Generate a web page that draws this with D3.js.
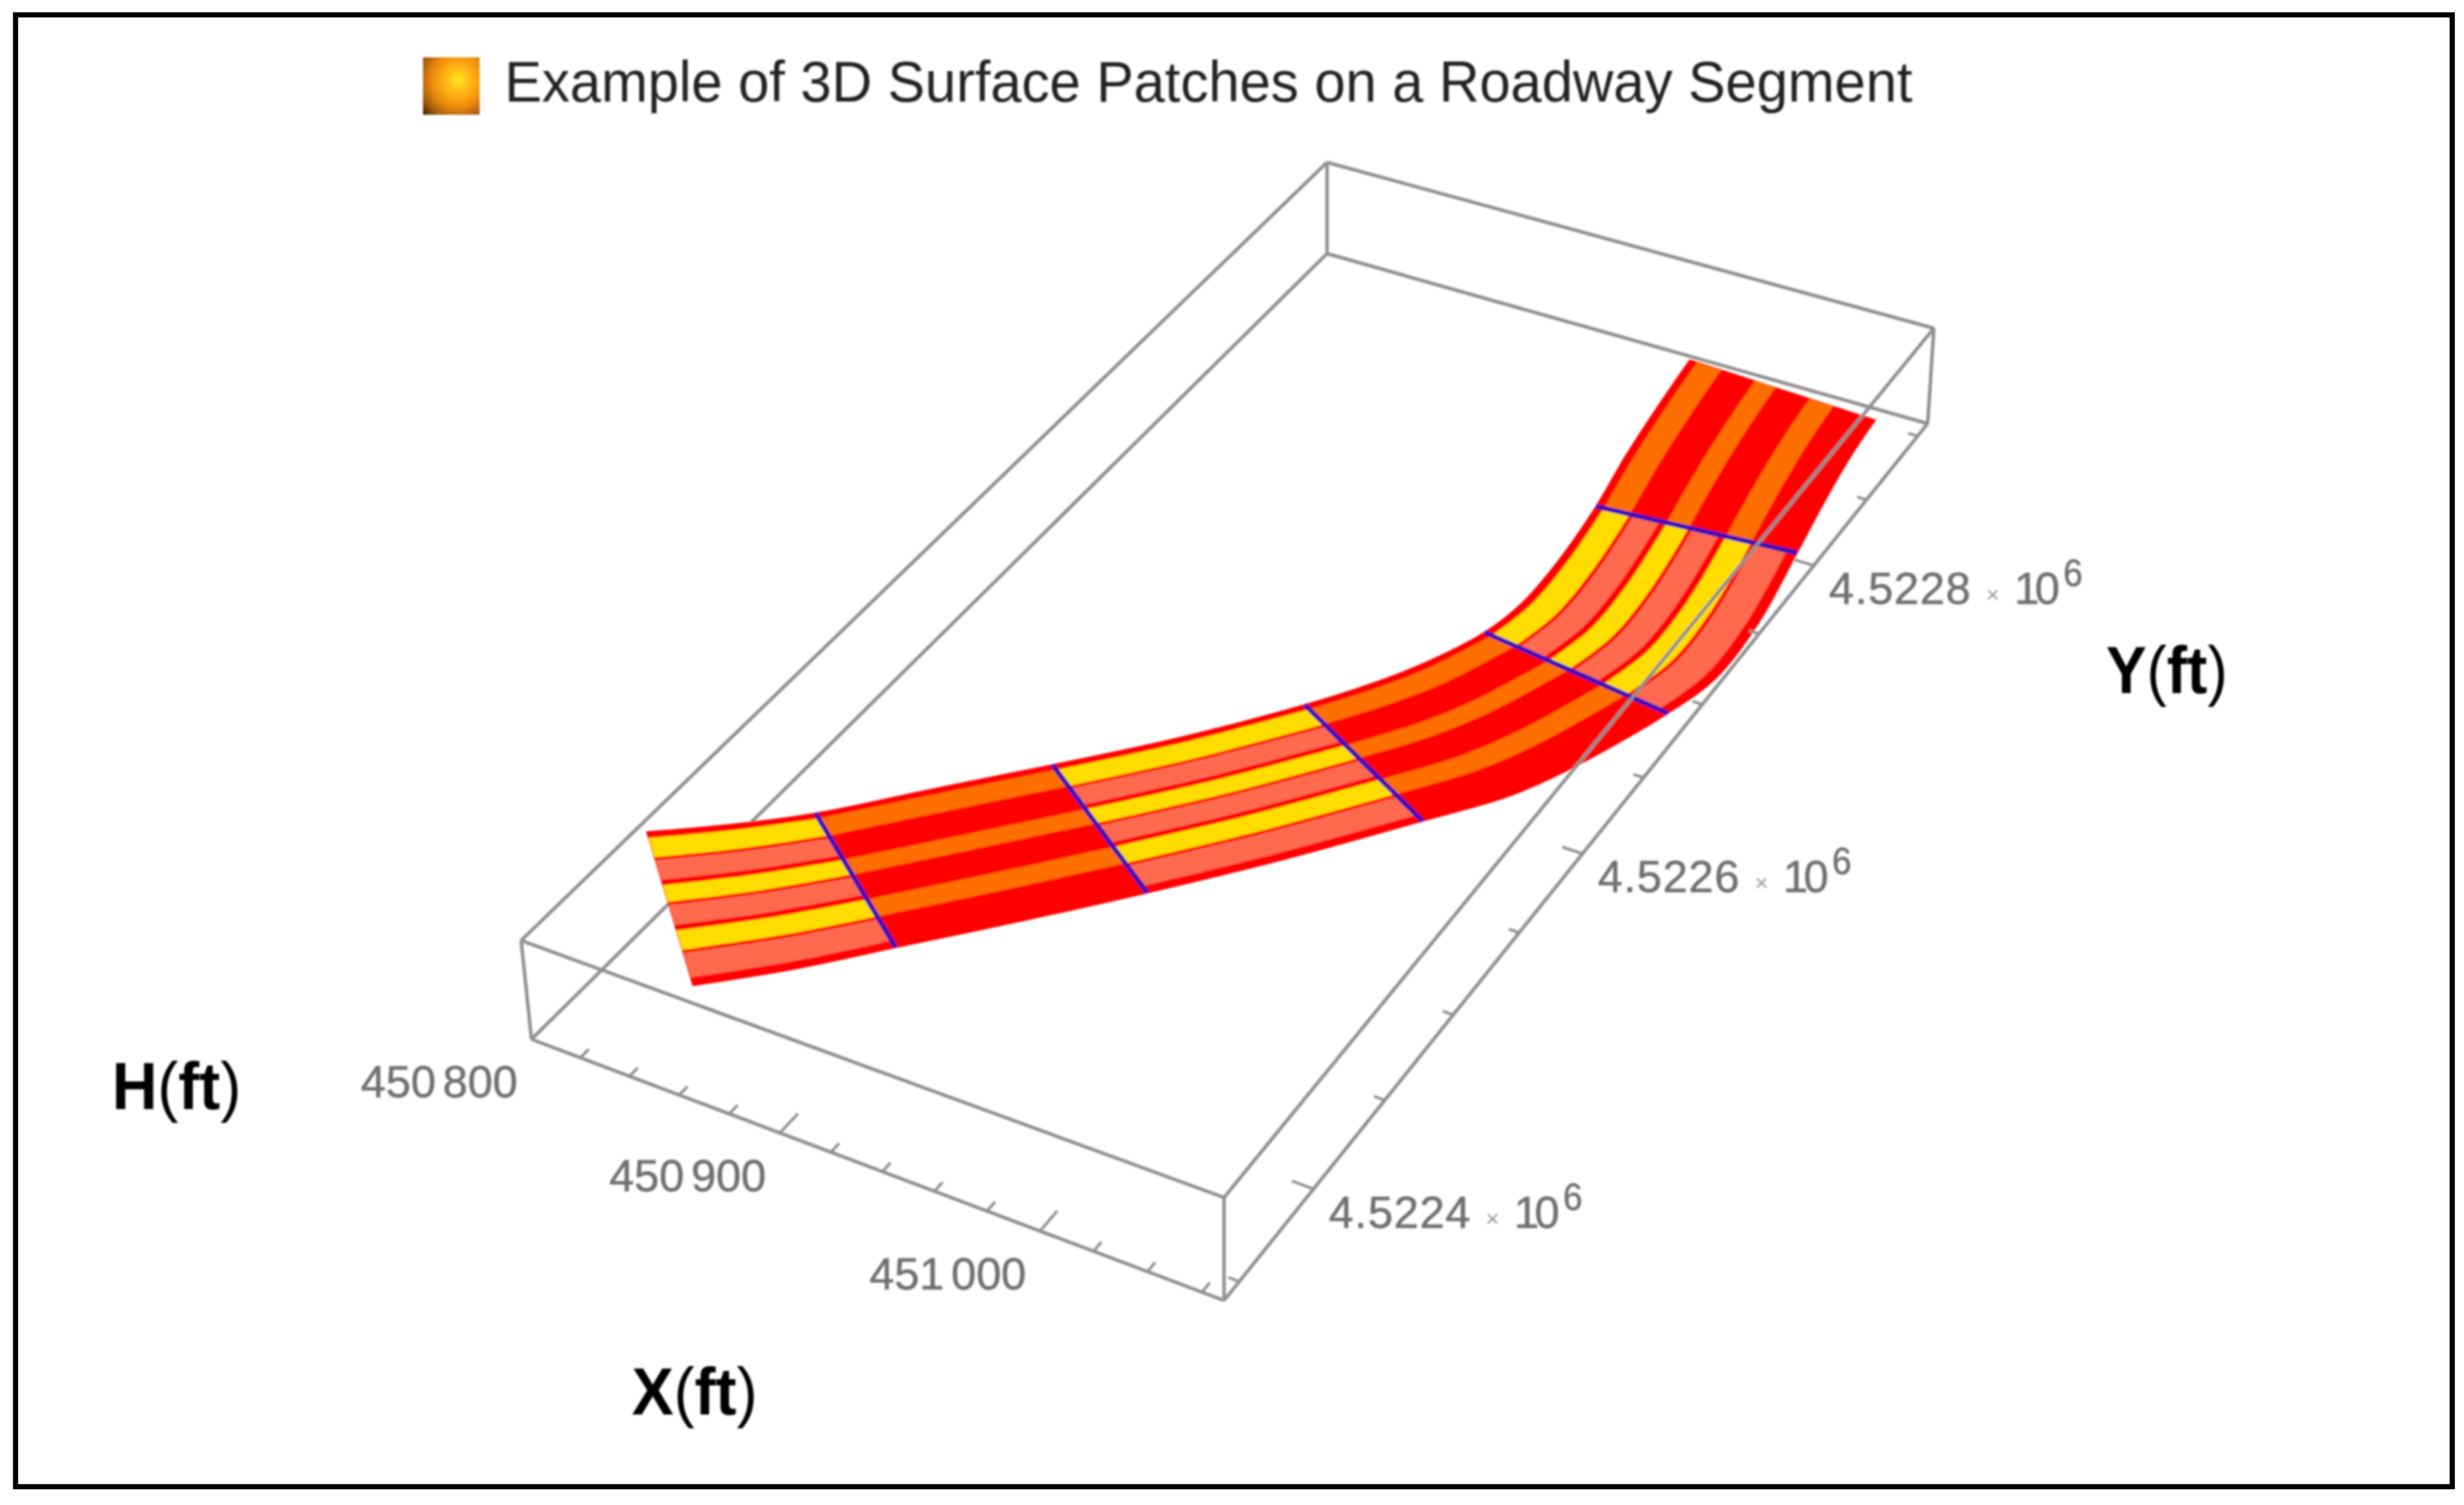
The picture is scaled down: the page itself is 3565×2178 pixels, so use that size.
<!DOCTYPE html><html><head><meta charset="utf-8"><style>html,body{margin:0;background:#fff}svg{display:block}</style></head><body><script src="https://d3js.org/d3.v7.min.js"></script><script>
// ---- data (feet) ----
const xDomain=[450800,451068], yDomain=[4522340,4522910], hDomain=[0,100];
const xMajorTicks=[450800,450900,451000];
const yMajorTicks=[4522400,4522600,4522800];
const xTickValues=d3.range(450800,451068,20);
const yTickValues=d3.range(4522350,4522910,50);
const roadLeftX=[450799.1,450821.2,450841.5,450869.1,450896.4,450926.0,450954.3,450967.6,450977.2,450986.4,450988.7,450986.9,450982.1,450975.8,450970.4,450966.3];
const roadLeftY=[4522415.1,4522434.9,4522456.0,4522490.7,4522524.6,4522562.3,4522604.5,4522630.0,4522653.6,4522684.6,4522711.5,4522746.2,4522788.2,4522827.7,4522869.6,4522907.5];
const roadRightX=[450859.0,450883.6,450904.8,450933.6,450961.4,450992.5,451022.6,451041.3,451052.5,451066.9,451071.8,451069.7,451062.4,451056.1,451051.5,451048.9];
const roadRightY=[4522353.9,4522380.3,4522407.0,4522442.4,4522478.0,4522519.6,4522564.4,4522594.4,4522623.5,4522671.5,4522702.6,4522745.3,4522796.3,4522838.6,4522873.8,4522902.5];
const roadH=[85,80,75,69,63,57,50,44,38,32,26,20,14,9,4,0];
const patchBreaks=[0,2,4,6,9,12,15];
const patchKinds=["light","dark","light","dark","light","dark"];
const laneBands=[[.04,.17],[.19,.32],[.355,.465],[.485,.615],[.65,.775],[.795,.95]];
const lightColors=["#FFDD00","#FF6A50","#FFDD00","#FF6A50","#FFDD00","#FF6A50"];
const darkColors=["#FF6E00",null,"#FF6E00",null,"#FF6E00",null];
const titleText="Example of 3D Surface Patches on a Roadway Segment";
const axisNames=[["H","ft",162,1605,187],["X","ft",914,2047,182],["Y","ft",3047,1003,176]];
// ---- box corners on the page ----
const corner={D0:[769,1504],C0:[1771,1882],B0:[2789,613],A0:[1920,367],D1:[754,1361],C1:[1771,1733],B1:[2798,475],A1:[1920,235]};
const xs=d3.scaleLinear(xDomain,[0,1]), ys=d3.scaleLinear(yDomain,[0,1]), hs=d3.scaleLinear(hDomain,[0,1]);
function project(X,Y,H){
  const h=hs(H),u=xs(X),v=ys(Y);
  const l=(a,b)=>[a[0]+(b[0]-a[0])*h,a[1]+(b[1]-a[1])*h];
  const p0=l(corner.D0,corner.D1),p1=l(corner.C0,corner.C1),p2=l(corner.B0,corner.B1),p3=l(corner.A0,corner.A1);
  const dx1=p1[0]-p2[0],dx2=p3[0]-p2[0],sx=p0[0]-p1[0]+p2[0]-p3[0],dy1=p1[1]-p2[1],dy2=p3[1]-p2[1],sy=p0[1]-p1[1]+p2[1]-p3[1];
  const den=dx1*dy2-dx2*dy1,g=(sx*dy2-dx2*sy)/den,k=(dx1*sy-sx*dy1)/den;
  const w=g*u+k*v+1;
  return [((p1[0]-p0[0]+g*p1[0])*u+(p3[0]-p0[0]+k*p3[0])*v+p0[0])/w,((p1[1]-p0[1]+g*p1[1])*u+(p3[1]-p0[1]+k*p3[1])*v+p0[1])/w];
}
const sectionPoint=(i,f)=>project(roadLeftX[i]+(roadRightX[i]-roadLeftX[i])*f,roadLeftY[i]+(roadRightY[i]-roadLeftY[i])*f,roadH[i]);
const curve=d3.line().curve(d3.curveCatmullRom.alpha(.5));
function ribbon(i0,i1,f0,f1){
  const idx=d3.range(i0,i1+1);
  const a=curve(idx.map(i=>sectionPoint(i,f0)));
  const b=curve(idx.reverse().map(i=>sectionPoint(i,f1)));
  return a+"L"+b.slice(1)+"Z";
}
const svg=d3.select("body").append("svg").attr("width",3565).attr("height",2178);
const defs=svg.append("defs");
defs.append("filter").attr("id","soft").attr("x","-5%").attr("y","-5%").attr("width","110%").attr("height","110%").append("feGaussianBlur").attr("stdDeviation",1.4);
const rg=defs.append("radialGradient").attr("id","swatch").attr("cx",.62).attr("cy",.4).attr("r",.85);
[[0,"#FFE822"],[.3,"#FFB012"],[.55,"#EE8A10"],[.8,"#A05C08"],[1,"#3A2000"]].forEach(s=>rg.append("stop").attr("offset",s[0]).attr("stop-color",s[1]));
const art=svg.append("g").attr("filter","url(#soft)");
const edge=(g,a,b)=>g.append("line").attr("x1",a[0]).attr("y1",a[1]).attr("x2",b[0]).attr("y2",b[1]).attr("stroke","#8f8f8f").attr("stroke-width",5);
const [X0,X1]=xDomain,[Y0,Y1]=yDomain,[H0,H1]=hDomain;
// edges that pass behind the road
edge(art,project(X0,Y0,H0),project(X0,Y1,H0));
// road
const road=art.append("g");
road.append("path").attr("d",ribbon(0,15,0,1)).attr("fill","#FF0000").attr("stroke","#FF0000").attr("stroke-width",2);
patchKinds.forEach((kind,p)=>{
  const colors=kind==="light"?lightColors:darkColors;
  laneBands.forEach((band,j)=>{ if(!colors[j])return;
    road.append("path").attr("d",ribbon(patchBreaks[p],patchBreaks[p+1],band[0],band[1])).attr("fill",colors[j]);
  });
});
patchBreaks.slice(1,-1).forEach(i=>{
  const a=sectionPoint(i,0),b=sectionPoint(i,1);
  road.append("line").attr("x1",a[0]).attr("y1",a[1]).attr("x2",b[0]).attr("y2",b[1]).attr("stroke","#3A10B8").attr("stroke-width",7);
});
// remaining box edges
[[X0,Y0,H1,X0,Y1,H1],[X0,Y1,H1,X1,Y1,H1],[X1,Y1,H1,X1,Y0,H1],[X1,Y0,H1,X0,Y0,H1],[X0,Y1,H0,X1,Y1,H0],[X1,Y1,H0,X1,Y0,H0],[X1,Y0,H0,X0,Y0,H0],[X0,Y0,H0,X0,Y0,H1],[X1,Y0,H0,X1,Y0,H1],[X1,Y1,H0,X1,Y1,H1],[X0,Y1,H0,X0,Y1,H1]]
 .forEach(e=>edge(art,project(e[0],e[1],e[2]),project(e[3],e[4],e[5])));
// ticks
xTickValues.forEach(x=>{const major=xMajorTicks.includes(x);edge(art,project(x,Y0,H0),project(x,Y0+(major?11:5),H0)).attr("stroke-width",4);});
yTickValues.forEach(y=>{const major=yMajorTicks.includes(y);edge(art,project(X1,y,H0),project(X1-(major?8:4),y,H0)).attr("stroke-width",4);});
// tick labels
const labels=art.append("g").attr("font-family","'Liberation Sans',Arial,sans-serif").attr("fill","#6f6f6f").attr("stroke","#6f6f6f").attr("stroke-width",.7);
xMajorTicks.forEach(x=>{const p=project(x,Y0,H0),s=d3.format("d")(x);
  const t=labels.append("text").attr("x",p[0]-20).attr("y",p[1]+84).attr("text-anchor","end").attr("font-size",65);
  t.append("tspan").text(s.slice(0,3));
  t.append("tspan").attr("dx",10).text(s.slice(3));
});
const yFmt=d3.format(".4f");
yMajorTicks.forEach(y=>{const p=project(X1,y,H0),x=p[0]+22,b=p[1]+56;
  labels.append("text").attr("x",x).attr("y",b).attr("font-size",65).attr("textLength",205).text(yFmt(y/1e6));
  labels.append("text").attr("x",x+237).attr("y",b-2).attr("text-anchor","middle").attr("font-size",34).attr("fill","#999").attr("stroke","none").text("×");
  labels.append("text").attr("x",x+268).attr("y",b).attr("font-size",65).attr("textLength",66).text("10");
  labels.append("text").attr("x",x+339).attr("y",b-26).attr("font-size",55).attr("textLength",28).attr("lengthAdjust","spacingAndGlyphs").text("6");
});
// axis names
axisNames.forEach(([a,u,x,y,w])=>{
  const t=art.append("text").attr("x",x).attr("y",y).attr("font-family","'Liberation Sans',Arial,sans-serif").attr("font-size",97).attr("fill","#000").attr("textLength",w).attr("lengthAdjust","spacingAndGlyphs");
  t.append("tspan").attr("font-weight","700").text(a);
  t.append("tspan").attr("font-weight","400").text("(");
  t.append("tspan").attr("font-weight","700").text(u);
  t.append("tspan").attr("font-weight","400").text(")");
});
// title with swatch
art.append("rect").attr("x",612).attr("y",83).attr("width",82).attr("height",83).attr("fill","url(#swatch)");
art.append("text").attr("x",730).attr("y",147).attr("font-family","'Liberation Sans',Arial,sans-serif").attr("font-size",84).attr("fill","#222").attr("textLength",2037).attr("lengthAdjust","spacingAndGlyphs").text(titleText);
// outer frame
svg.append("rect").attr("x",22.5).attr("y",21.5).attr("width",3525.5).attr("height",2130).attr("fill","none").attr("stroke","#000").attr("stroke-width",7.5);
</script></body></html>
